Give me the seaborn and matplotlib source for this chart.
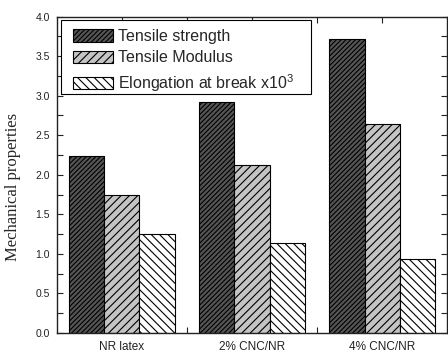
import matplotlib
matplotlib.use("Agg")
import matplotlib.pyplot as plt
import matplotlib.patches as mpatches
from matplotlib.ticker import MultipleLocator, FixedLocator
import seaborn as sns
import pandas as pd

samples = ["NR latex", "2% CNC/NR", "4% CNC/NR"]
properties = ["Tensile strength", "Tensile Modulus", "Elongation at break x10$^3$"]
tensile_strength = [2.24, 2.92, 3.71]
tensile_modulus = [1.74, 2.12, 2.64]
elongation = [1.25, 1.14, 0.94]

sns.set_theme(style="ticks")
plt.rcParams["font.family"] = ["Liberation Sans", "DejaVu Sans"]
plt.rcParams["mathtext.fontset"] = "custom"
plt.rcParams["mathtext.rm"] = "Liberation Sans"
plt.rcParams["hatch.linewidth"] = 0.8
plt.rcParams["hatch.color"] = "black"

df = pd.DataFrame({
    "sample": samples * 3,
    "property": [properties[0]] * 3 + [properties[1]] * 3 + [properties[2]] * 3,
    "value": tensile_strength + tensile_modulus + elongation,
})

fills = ["#555555", "#c4c4c4", "#ffffff"]
hatches = ["///////", "////", "\\\\\\\\"]

fig = plt.figure(figsize=(4.48, 3.52), dpi=100)
ax = fig.add_axes([0.127, 0.054, 0.871, 0.899])

sns.barplot(data=df, x="sample", y="value", hue="property", order=samples,
            hue_order=properties, palette=fills, width=0.81, saturation=1,
            edgecolor="black", linewidth=0.8, legend=False, ax=ax)

for cont, fc, h in zip(ax.containers, fills, hatches):
    for bar in cont:
        bar.set_facecolor(fc)
        bar.set_hatch(h)
        bar.set_edgecolor("black")

ax.set_xlim(-0.5, 2.5)
ax.set_ylim(0, 4.0)
ax.yaxis.set_major_locator(MultipleLocator(0.5))
ax.yaxis.set_minor_locator(MultipleLocator(0.25))
ax.xaxis.set_minor_locator(FixedLocator([0.5, 1.5]))
ax.tick_params(which="both", direction="in", top=True, right=True,
               length=4, width=0.8, colors="#222222")
ax.tick_params(axis="y", which="major", labelsize=7.5, pad=5)
ax.tick_params(axis="x", which="major", labelsize=8.5, pad=6)
ax.set_yticklabels([f"{v:.1f}" for v in ax.get_yticks()])
ax.set_xlabel("")
ax.set_ylabel("Mechanical properties", family=["Liberation Serif"], fontsize=12)
ax.yaxis.set_label_coords(-0.093, 0.461)
for s in ax.spines.values():
    s.set_linewidth(1.0)
    s.set_color("#222222")

# legend box drawn as its own rectangle, with a frameless legend inside it
ax.add_patch(mpatches.Rectangle((0.0103, 0.755), 0.641, 0.234, transform=ax.transAxes,
                                facecolor="white", edgecolor="black", linewidth=0.8,
                                zorder=4))
handles = [mpatches.Patch(facecolor=fc, edgecolor="black", hatch=h, linewidth=0.8)
           for fc, h in zip(fills, hatches)]
leg = ax.legend(handles, properties, loc="upper left", bbox_to_anchor=(0.041, 0.9605),
                fontsize=11.5, frameon=False, handlelength=2.5, handleheight=0.85,
                handletextpad=0.3, borderpad=0.0, labelspacing=0.4, borderaxespad=0.0)
leg.set_zorder(5)

fig.savefig("out.png", dpi=100)
